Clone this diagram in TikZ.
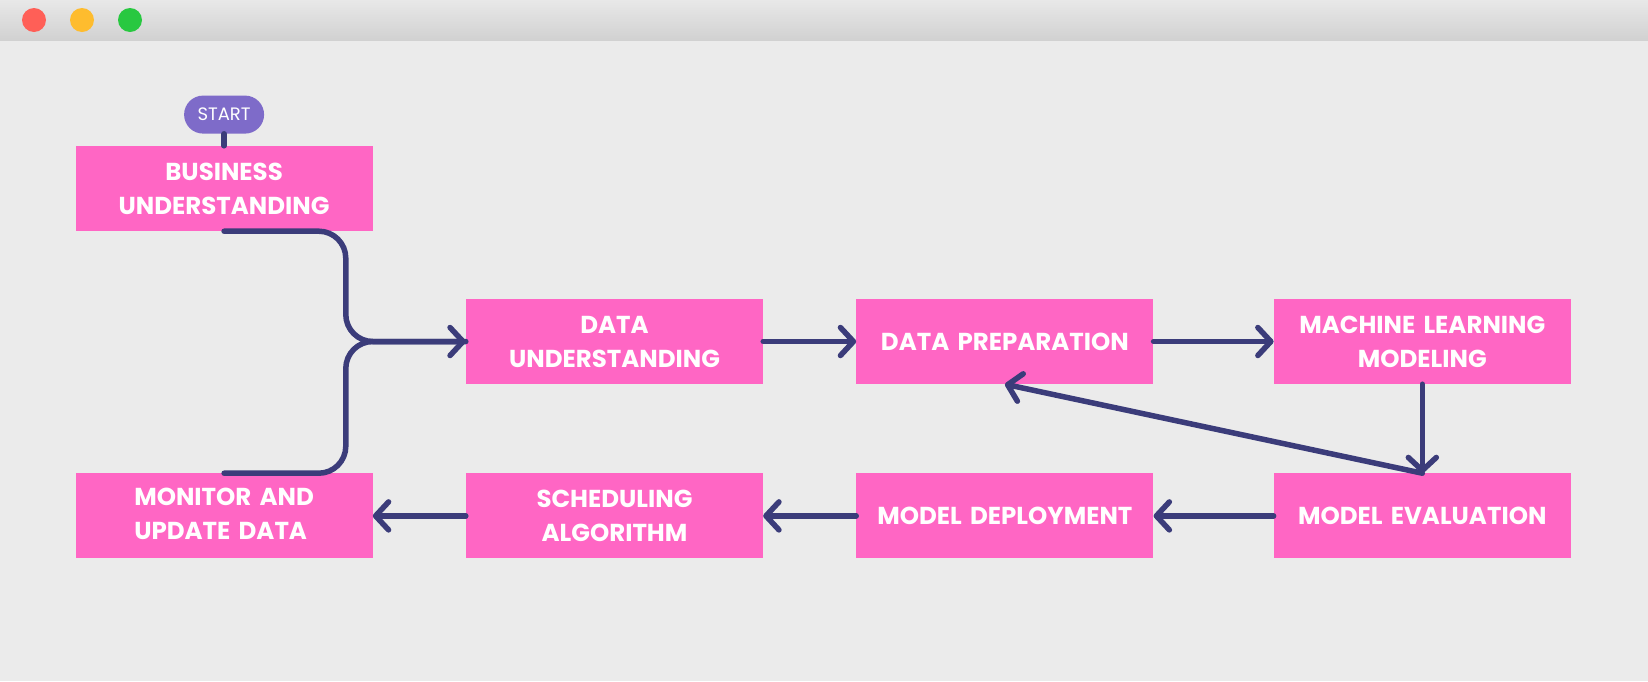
\documentclass[tikz,border=0pt]{standalone}
\usepackage{fontspec}
\setmainfont{Poppins}
\usepackage{tikz}
\usetikzlibrary{positioning,arrows.meta,calc}
\definecolor{bgcol}{HTML}{EBEBEB}
\definecolor{pinkbox}{HTML}{FF66C4}
\definecolor{navy}{HTML}{3B3C7A}
\definecolor{startcol}{HTML}{7E6BC9}
\definecolor{winred}{HTML}{FF5F57}
\definecolor{winyellow}{HTML}{FEBC2E}
\definecolor{wingreen}{HTML}{28C840}
\tikzset{
  stepbox/.style={rectangle, minimum width=297pt, minimum height=85pt, text width=285pt, inner sep=0pt, align=center, fill=pinkbox, text=white, font=\fontsize{24.5}{34}\selectfont\bfseries},
  startbox/.style={rectangle, rounded corners=19pt, minimum width=80pt, minimum height=38pt, inner sep=0pt, fill=startcol, text=white, font=\fontsize{18}{20}\selectfont},
  link/.style={draw=navy, line width=5.5pt, line cap=round},
  node distance=93pt
}
\begin{document}
\begin{tikzpicture}[x=1pt, y=-1pt, >={Straight Barb[length=13pt,width=28pt,line cap=round,line join=round]}]
	% window
	\fill[bgcol] (0,0) rectangle (1648,681);
	\shade[top color=black!9, bottom color=black!18] (0,0) rectangle (1648,40);
	\fill[winred] (34,20) circle (12);
	\fill[winyellow] (82,20) circle (12);
	\fill[wingreen] (130,20) circle (12);
	\useasboundingbox (0,0) rectangle (1648,681);
	%
	\node[stepbox] (du) at (614.5,341.5) {DATA\\UNDERSTANDING};
	\node[stepbox, right=of du] (dp) {DATA PREPARATION};
	\node[stepbox, right=120pt of dp] (ml) {MACHINE LEARNING\\MODELING};
	\node[stepbox, below=89pt of ml] (me) {MODEL EVALUATION};
	\node[stepbox, left=120pt of me] (md) {MODEL DEPLOYMENT};
	\node[stepbox, left=of md] (sa) {SCHEDULING\\ALGORITHM};
	\node[stepbox, left=of sa] (mu) {\begin{tabular}{@{}l@{}}MONITOR AND\\UPDATE DATA\end{tabular}};
	\node[stepbox, above=242pt of mu] (bu) {BUSINESS\\UNDERSTANDING};
	\node[startbox, above=12pt of bu] (start) {START};
	%
	\coordinate (join) at ($(du.west)+(-120,0)$);
	\draw[link] (start) -- (bu);
	\draw[link, rounded corners=27pt] (mu.north) -| (join) -- (du.west);
	\draw[link, ->, rounded corners=27pt] (bu.south) -| (join) -- (du.west);
	\draw[link, ->] (du) -- (dp);
	\draw[link, ->] (dp) -- (ml);
	\draw[link, ->] (ml) -- (me);
	\draw[link, ->] (me.north) -- (dp.south);
	\draw[link, ->] (me) -- (md);
	\draw[link, ->] (md) -- (sa);
	\draw[link, ->] (sa) -- (mu);
\end{tikzpicture}
\end{document}
